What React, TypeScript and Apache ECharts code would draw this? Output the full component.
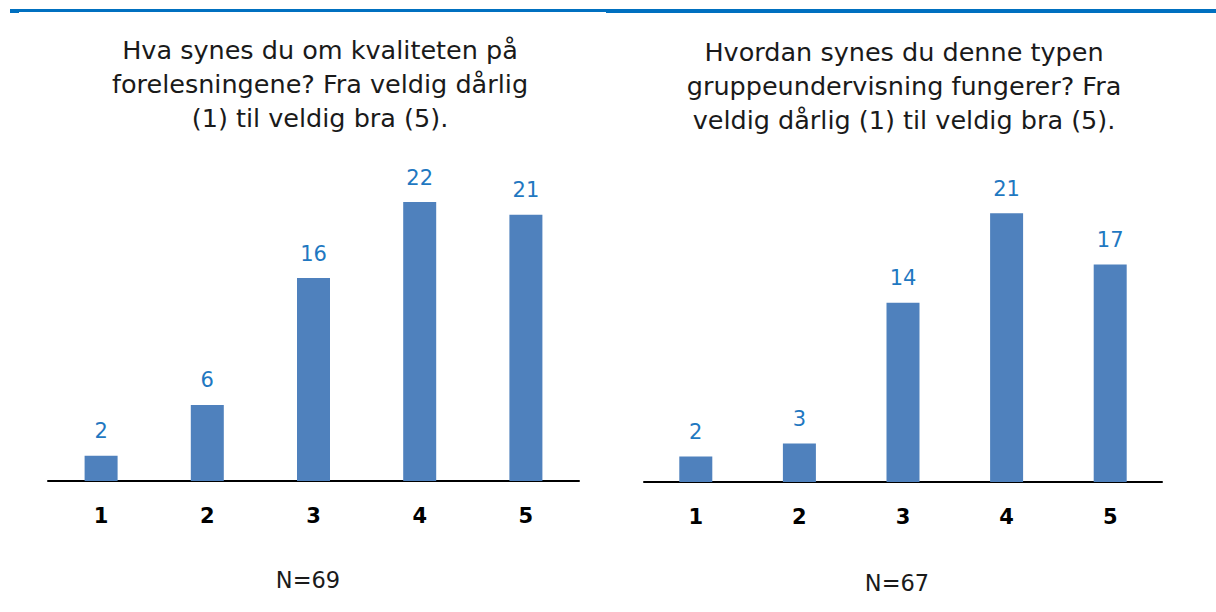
import React, { useEffect, useRef } from "react";
import * as echarts from "echarts";

const categories = ["1", "2", "3", "4", "5"];
const leftValues = [2, 6, 16, 22, 21];
const rightValues = [2, 3, 14, 21, 17];
const leftTitle = ["Hva synes du om kvaliteten på", "forelesningene? Fra veldig dårlig", "(1) til veldig bra (5)."];
const rightTitle = ["Hvordan synes du denne typen", "gruppeundervisning fungerer? Fra", "veldig dårlig (1) til veldig bra (5)."];
const leftN = "N=69";
const rightN = "N=67";

const FONT = "'DejaVu Sans', sans-serif";
const BAR = "#4F81BD";
const LABEL = "#1F78C1";

export default function App() {
  const ref = useRef<HTMLDivElement>(null);
  useEffect(() => {
    const chart = echarts.init(ref.current!, null, { renderer: "svg" });
    const yMax = 25;
    const mkX = (gi: number) => ({
      type: "category",
      gridIndex: gi,
      data: categories,
      axisLine: { show: true, lineStyle: { color: "#000", width: 2 } },
      axisTick: { show: false },
      axisLabel: { color: "#000", fontWeight: "bold", fontSize: 21, fontFamily: FONT, margin: 24 },
    });
    const mkY = (gi: number) => ({
      type: "value",
      gridIndex: gi,
      min: 0,
      max: yMax,
      show: false,
      splitLine: { show: false },
    });
    const mkS = (gi: number, data: number[]) => ({
      type: "bar",
      xAxisIndex: gi,
      yAxisIndex: gi,
      data,
      barWidth: 33,
      itemStyle: { color: BAR },
      label: { show: true, position: "top", distance: 14, color: LABEL, fontSize: 21, fontFamily: FONT },
    });
    chart.setOption({
      animation: false,
      backgroundColor: "#fff",
      grid: [
        { left: 48, width: 531, top: 481 - yMax * 12.68, height: yMax * 12.68 },
        { left: 644, width: 518, top: 482 - yMax * 12.8, height: yMax * 12.8 },
      ],
      xAxis: [mkX(0), mkX(1)],
      yAxis: [mkY(0), mkY(1)],
      series: [mkS(0, leftValues), mkS(1, rightValues)],
      graphic: [
        { type: "rect", shape: { x: 10, y: 9, width: 596, height: 3 }, style: { fill: "#0070C0" } },
        { type: "rect", shape: { x: 10, y: 9, width: 9, height: 4 }, style: { fill: "#0070C0" } },
        { type: "rect", shape: { x: 606, y: 9, width: 610, height: 4 }, style: { fill: "#0070C0" } },
        ...leftTitle.map((t, i) => ({
          type: "text", x: 320, y: 50 + i * 34,
          style: { text: t, fill: "#1a1a1a", font: `25.5px ${FONT}`, textAlign: "center", textVerticalAlign: "middle" },
        })),
        ...rightTitle.map((t, i) => ({
          type: "text", x: 904, y: 52 + i * 34,
          style: { text: t, fill: "#1a1a1a", font: `25.5px ${FONT}`, textAlign: "center", textVerticalAlign: "middle" },
        })),
        { type: "text", x: 308, y: 580, style: { text: leftN, fill: "#1a1a1a", font: `22.5px ${FONT}`, textAlign: "center", textVerticalAlign: "middle" } },
        { type: "text", x: 897, y: 583, style: { text: rightN, fill: "#1a1a1a", font: `22.5px ${FONT}`, textAlign: "center", textVerticalAlign: "middle" } },
      ],
    });
    return () => chart.dispose();
  }, []);
  return <div ref={ref} style={{ position: "fixed", left: 0, top: 0, width: 1216, height: 612 }} />;
}
